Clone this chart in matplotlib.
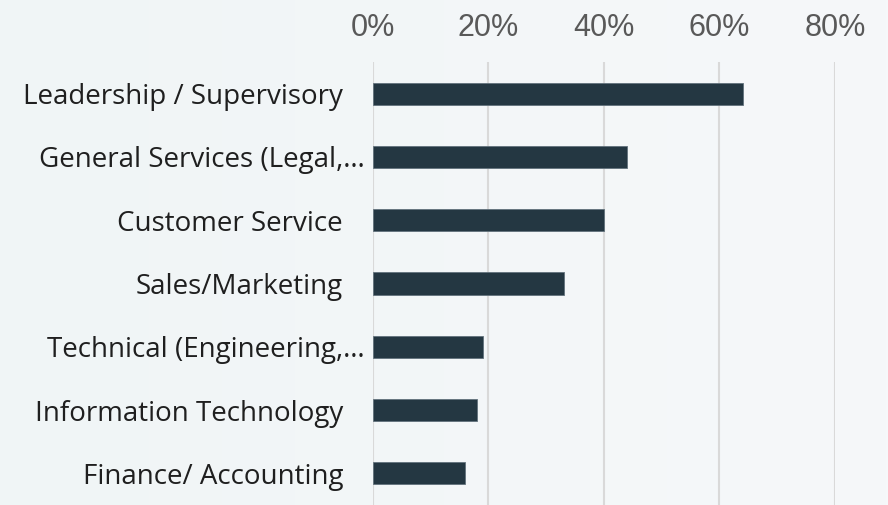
import matplotlib
matplotlib.use("Agg")
import matplotlib.pyplot as plt
import matplotlib.transforms as mtransforms
from matplotlib.colors import LinearSegmentedColormap
import numpy as np

# data (percent)
categories = [
    "Leadership / Supervisory",
    "General Services (Legal,\u2026",
    "Customer Service",
    "Sales/Marketing",
    "Technical (Engineering,\u2026",
    "Information Technology",
    "Finance/ Accounting",
]
values = [64, 44, 40, 33, 19, 18, 16]
tick_values = [0, 20, 40, 60, 80]
tick_labels = ["0%", "20%", "40%", "60%", "80%"]

fig = plt.figure(figsize=(8.88, 5.05), dpi=100)
fig.patch.set_facecolor("#f2f6f7")

# soft background gradient
bg = fig.add_axes([0, 0, 1, 1], zorder=-10)
bg.axis("off")
grad = np.linspace(0, 1, 256).reshape(1, -1)
cmap = LinearSegmentedColormap.from_list("bg", ["#f0f5f6", "#f6f8fa"])
bg.imshow(grad, aspect="auto", cmap=cmap, extent=[0, 1, 0, 1])

ax = fig.add_axes([0.420, 0.0, 0.5203, 0.8772])
ax.patch.set_alpha(0)

y = np.arange(len(categories))
ax.barh(y, values, height=0.35, color="#243742", edgecolor="#62727c",
        linewidth=0.6, zorder=3)

ax.set_xlim(0, 80)
ax.set_ylim(len(categories) - 0.5, -0.5)

ax.set_xticks(tick_values)
ax.set_xticklabels(tick_labels, fontfamily="Liberation Sans", fontsize=22,
                   color="#595959")
ax.xaxis.tick_top()
ax.tick_params(axis="x", length=0, pad=14)

ax.set_yticks(y)
ax.set_yticklabels(categories, fontfamily="Open Sans", fontsize=20,
                   color="#1f1f1f")
ax.tick_params(axis="y", length=0, pad=21.5)

# truncated labels sit closer to the axis
for lab in ax.get_yticklabels():
    if lab.get_text().endswith("\u2026"):
        lab.set_transform(lab.get_transform() + mtransforms.ScaledTranslation(
            22 / 100, 0, fig.dpi_scale_trans))

ax.grid(axis="x", color="#d9d9d9", linewidth=1.5, zorder=0)
for s in ax.spines.values():
    s.set_visible(False)

fig.savefig("out.png", dpi=100, facecolor=fig.get_facecolor())
